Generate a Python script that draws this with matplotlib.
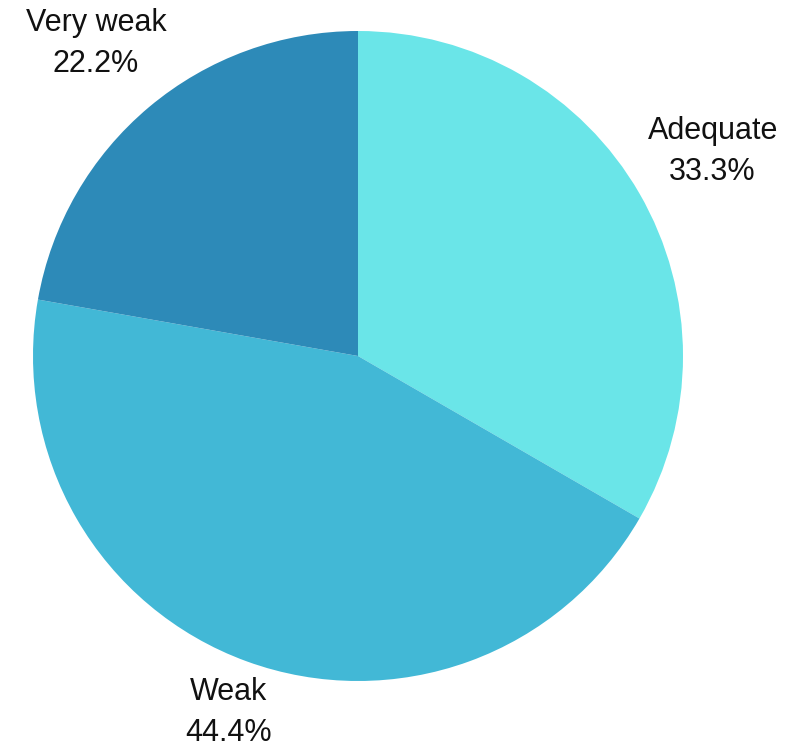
import numpy as np
import matplotlib
matplotlib.use("Agg")
import matplotlib.pyplot as plt

plt.rcParams['font.family'] = ['Liberation Sans', 'DejaVu Sans']

categories = ['Adequate', 'Weak', 'Very weak']
shares = [33.3, 44.4, 22.2]
colors = ['#6ae5e8', '#42b8d6', '#2d8ab8']

fig = plt.figure(figsize=(8.07, 7.48), dpi=100)
# pie centre at (358, 356) px, radius 325 px
ax = fig.add_axes([(358 - 325) / 807, (748 - 356 - 325) / 748, 650 / 807, 650 / 748])

wedges, _ = ax.pie(shares, colors=colors, startangle=90, counterclock=False,
                   radius=1.0, wedgeprops=dict(linewidth=0))
ax.set_xlim(-1, 1)
ax.set_ylim(-1, 1)
ax.set_aspect('auto')
ax.axis('off')

# label distance per slice
label_r = [1.26, 1.168, 1.255]
for w, name, s, r in zip(wedges, categories, shares, label_r):
    mid = np.deg2rad((w.theta1 + w.theta2) / 2)
    ax.text(r * np.cos(mid), r * np.sin(mid), f"{name}\n{s:.1f}%",
            ha='center', va='center', fontsize=22, color='#111111',
            linespacing=1.5, clip_on=False)

fig.savefig('out.png', dpi=100)
